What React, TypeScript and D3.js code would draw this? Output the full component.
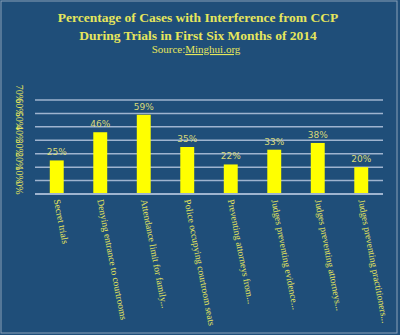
import React from "react";
import * as d3 from "d3";

const categories = [
  "Secret trials",
  "Denying entrance to courtrooms",
  "Attendance limit for family...",
  "Police occupying courtroom seats",
  "Preventing attorneys from...",
  "Judges preventing evidence...",
  "Judges preventing attorneys...",
  "Judges preventing practitioners...",
];
const values = [25, 46, 59, 35, 22, 33, 38, 20];
const yTicks = [0, 10, 20, 30, 40, 50, 60, 70];
const titleLines = [
  "Percentage of Cases with Interference from CCP",
  "During Trials in First Six Months of 2014",
];

const W = 400;
const H = 335;
const BG = "#1f4e79";
const YELLOW = "#ffff00";
const TEXT = "#e6e65c";
const GRID = "#9fb4cf";

export default function App() {
  const x = d3.scaleBand<string>().domain(categories).range([35, 383]).paddingInner(0.68).paddingOuter(0.34);
  const y = d3.scaleLinear().domain([0, 70]).range([194, 100]);
  return (
    <svg width={W} height={H} style={{ position: "absolute", left: 0, top: 0 }}>
      <rect x={0} y={0} width={W} height={H} fill={BG} />
      <rect x={1} y={1} width={W - 4} height={H - 3} fill="none" stroke="#8aa0b8" strokeWidth={1} />
      {titleLines.map((t, i) => (
        <text key={i} x={198} y={22 + i * 18} textAnchor="middle" fill={TEXT}
          fontFamily="'Liberation Serif', serif" fontWeight="bold" fontSize={13.5}>{t}</text>
      ))}
      <text x={196} y={53} textAnchor="middle" fill={TEXT} fontFamily="'Liberation Serif', serif" fontSize={11}>
        Source:<tspan textDecoration="underline">Minghui.org</tspan>
      </text>
      {yTicks.map((t) => (
        <line key={t} x1={35} x2={383} y1={y(t)} y2={y(t)} stroke={GRID} strokeWidth={t === 0 ? 2 : 1.5} />
      ))}
      {yTicks.map((t) => (
        <text key={"l" + t} transform={`translate(16,${y(t) - 6}) rotate(90)`} textAnchor="middle"
          fill={TEXT} fontFamily="'Liberation Serif', serif" fontSize={10}>{t}%</text>
      ))}
      {categories.map((c, i) => {
        const bx = x(c)!;
        const cx = bx + x.bandwidth() / 2;
        return (
          <g key={c}>
            <rect x={bx} y={y(values[i])} width={x.bandwidth()} height={y(0) - y(values[i]) - 1} fill={YELLOW} />
            <text x={cx} y={y(values[i]) - 5} textAnchor="middle" fill="#d9d97a"
              fontFamily="'DejaVu Sans', sans-serif" fontSize={9}>{values[i]}%</text>
            <text transform={`translate(${cx - 3},${200}) rotate(79)`} textAnchor="start" fill={TEXT}
              fontFamily="'Liberation Serif', serif" fontSize={9.5}>{c}</text>
          </g>
        );
      })}
    </svg>
  );
}
